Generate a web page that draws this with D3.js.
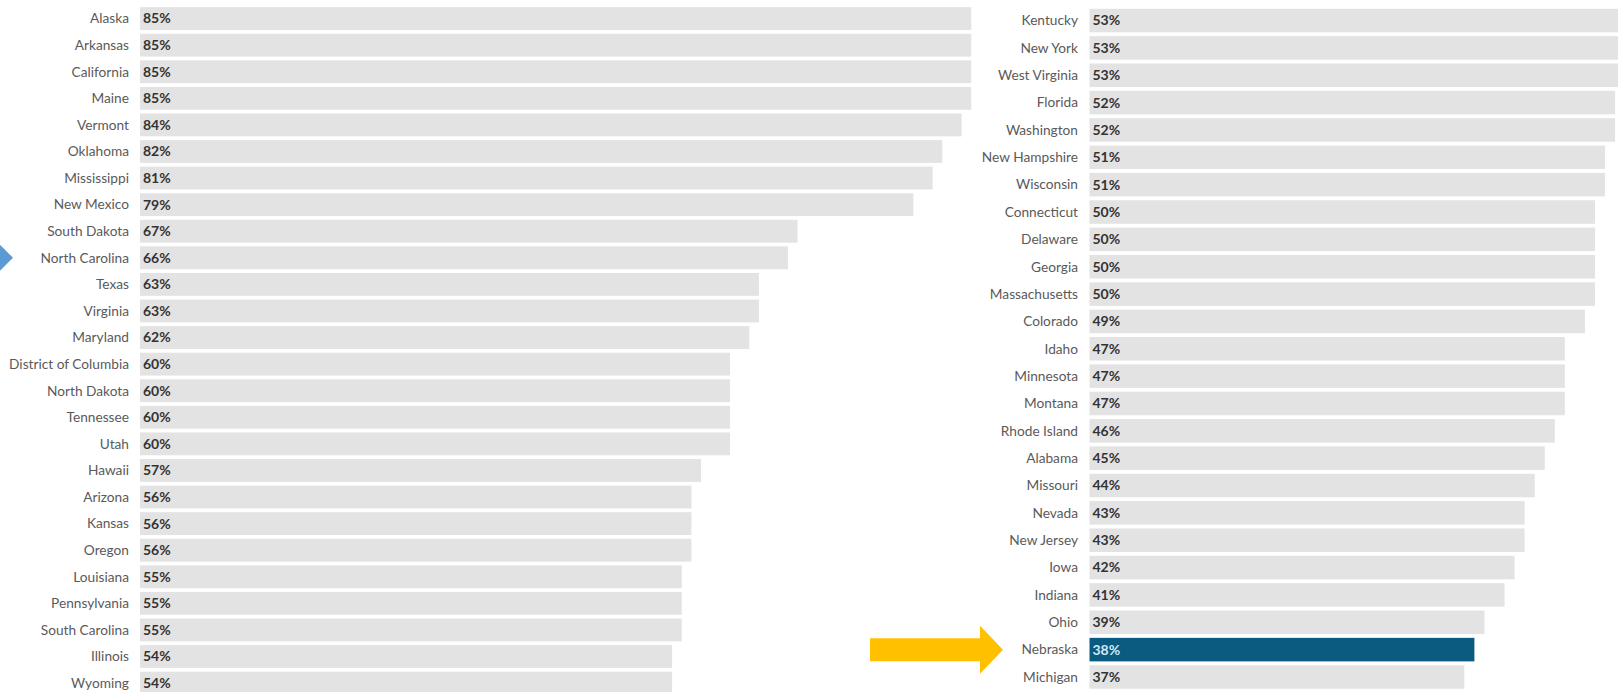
<!DOCTYPE html>
<html>
<head>
<meta charset="utf-8">
<script src="https://cdn.jsdelivr.net/npm/d3@7"></script>
<style>
  html, body { margin: 0; padding: 0; background: #ffffff; }
  svg { display: block; }
  .state_name { font-family: Lato, "Open Sans", sans-serif; font-size: 13.7px; fill: #5a5a5a; }
  .pct { font-family: Lato, "Open Sans", sans-serif; font-size: 14px; font-weight: 700; fill: #333333; }
</style>
</head>
<body>
<script>
"use strict";

const left_states = ["Alaska", "Arkansas", "California", "Maine", "Vermont", "Oklahoma", "Mississippi",
    "New Mexico", "South Dakota", "North Carolina", "Texas", "Virginia", "Maryland", "District of Columbia",
    "North Dakota", "Tennessee", "Utah", "Hawaii", "Arizona", "Kansas", "Oregon", "Louisiana",
    "Pennsylvania", "South Carolina", "Illinois", "Wyoming"];
const left_values = [85, 85, 85, 85, 84, 82, 81, 79, 67, 66, 63, 63, 62, 60, 60, 60, 60, 57, 56, 56, 56, 55, 55, 55, 54, 54];

const right_states = ["Kentucky", "New York", "West Virginia", "Florida", "Washington", "New Hampshire",
    "Wisconsin", "Connecticut", "Delaware", "Georgia", "Massachusetts", "Colorado", "Idaho", "Minnesota",
    "Montana", "Rhode Island", "Alabama", "Missouri", "Nevada", "New Jersey", "Iowa", "Indiana", "Ohio",
    "Nebraska", "Michigan"];
const right_values = [53, 53, 53, 52, 52, 51, 51, 50, 50, 50, 50, 49, 47, 47, 47, 46, 45, 44, 43, 43, 42, 41, 39, 38, 37];

const highlight_state = "Nebraska";
const left_marker_state = "North Carolina";

create_svg();

function create_svg() {
    const wSvg = 1618, hSvg = 692;

    let svg = d3.select("body").append("svg")
        .attr("width", wSvg).attr("height", hSvg);

    // left column
    let yLeft = d3.scaleBand()
        .domain(left_states)
        .range([5.3, 5.3 + 26 * 26.58])
        .paddingInner(.14)
        .paddingOuter(.07);
    let xLeft = d3.scaleLinear()
        .domain([0, 100])
        .range([151, 1116]);

    draw_panel(svg, to_rows(left_states, left_values), xLeft, yLeft, 140, 129);

    // right column
    let yRight = d3.scaleBand()
        .domain(right_states)
        .range([6.9, 6.9 + 25 * 27.35])
        .paddingInner(.14)
        .paddingOuter(.07);
    let xRight = d3.scaleLinear()
        .domain([0, 100])
        .range([1092.5, 2097.5]);

    draw_panel(svg, to_rows(right_states, right_values), xRight, yRight, 1089.5, 1078);

    // blue marker on the left edge
    let cyBlue = yLeft(left_marker_state) + yLeft.bandwidth() / 2;
    svg.append("path")
        .attr("d", `M-14,${cyBlue - 27}L13,${cyBlue}L-14,${cyBlue + 27}Z`)
        .attr("fill", "#5b9bd5");

    // yellow arrow pointing at the highlighted state
    let cyYellow = yRight(highlight_state) + yRight.bandwidth() / 2;
    let arrow = d3.path();
    arrow.moveTo(870, cyYellow - 11.5);
    arrow.lineTo(980, cyYellow - 11.5);
    arrow.lineTo(980, cyYellow - 24);
    arrow.lineTo(1003, cyYellow);
    arrow.lineTo(980, cyYellow + 24);
    arrow.lineTo(980, cyYellow + 11.5);
    arrow.lineTo(870, cyYellow + 11.5);
    arrow.closePath();
    svg.append("path")
        .attr("d", arrow.toString())
        .attr("fill", "#ffc000");
}

function to_rows(states, values) {
    return states.map((s, i) => ({ state: s, value: values[i] }));
}

function draw_panel(svg, rows, xScale, yScale, barStart, labelEnd) {
    let g = svg.append("g");

    g.selectAll("rect")
        .data(rows)
        .enter()
        .append("rect")
        .attr("x", barStart)
        .attr("y", d => yScale(d.state))
        .attr("width", d => xScale(d.value) - barStart)
        .attr("height", yScale.bandwidth())
        .attr("fill", d => d.state == highlight_state ? "#0b5a80" : "#e3e3e3");

    g.selectAll("text.state_name")
        .data(rows)
        .enter()
        .append("text")
        .attr("class", "state_name")
        .attr("x", labelEnd)
        .attr("y", setY_text)
        .attr("dy", "0.35em")
        .attr("text-anchor", "end")
        .text(d => d.state);

    g.selectAll("text.pct")
        .data(rows)
        .enter()
        .append("text")
        .attr("class", "pct")
        .attr("x", barStart + 3)
        .attr("y", setY_text)
        .attr("dy", "0.35em")
        .style("fill", d => d.state == highlight_state ? "#cfe9f7" : null)
        .text(d => d.value + "%");

    function setY_text(d) { return yScale(d.state) + yScale.bandwidth() / 2; }
}
</script>
</body>
</html>
